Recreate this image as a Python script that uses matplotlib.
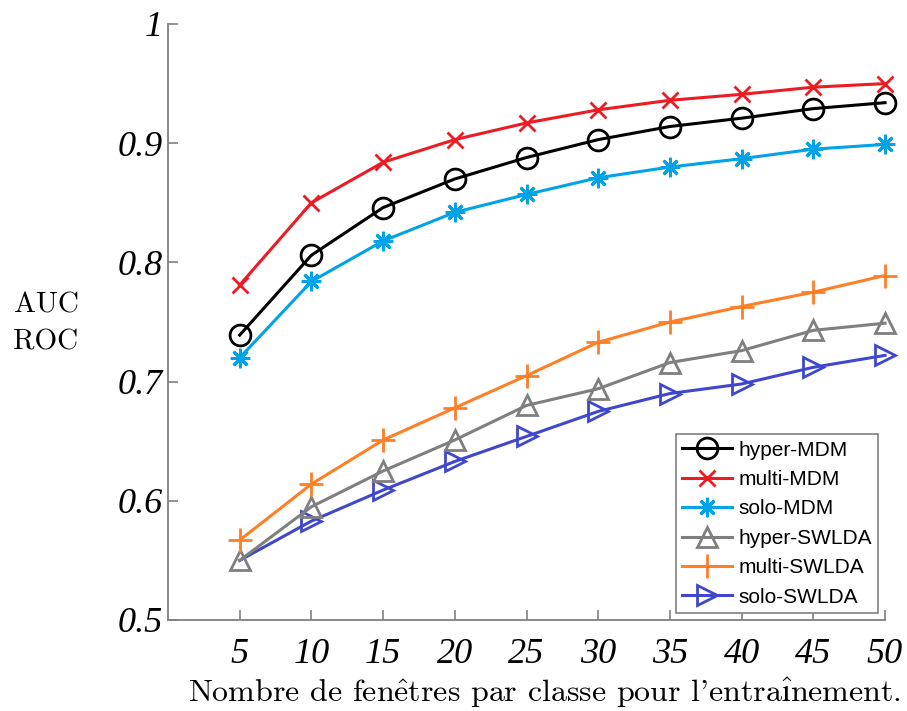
import matplotlib
matplotlib.use("Agg")
import matplotlib.pyplot as plt

plt.rcParams["mathtext.fontset"] = "cm"

x = [5, 10, 15, 20, 25, 30, 35, 40, 45, 50]

hyper_mdm = [0.739, 0.806, 0.846, 0.870, 0.888, 0.903, 0.914, 0.921, 0.929, 0.934]
multi_mdm = [0.781, 0.850, 0.884, 0.903, 0.917, 0.928, 0.936, 0.941, 0.947, 0.950]
solo_mdm = [0.720, 0.784, 0.818, 0.842, 0.857, 0.871, 0.880, 0.887, 0.895, 0.899]
hyper_swlda = [0.550, 0.595, 0.625, 0.651, 0.680, 0.694, 0.716, 0.726, 0.743, 0.749]
multi_swlda = [0.567, 0.614, 0.651, 0.678, 0.705, 0.733, 0.750, 0.763, 0.775, 0.789]
solo_swlda = [0.550, 0.583, 0.609, 0.633, 0.654, 0.675, 0.690, 0.698, 0.712, 0.722]

labels = ["hyper-MDM", "multi-MDM", "solo-MDM", "hyper-SWLDA", "multi-SWLDA", "solo-SWLDA"]
colors = ["#000000", "#ED1C24", "#00A2E8", "#7F7F7F", "#FF7F27", "#3F48CC"]
markers = ["o", "x", (8, 2, 0), "^", "+", ">"]
sizes = [15, 12, 14, 15, 17, 15]

fig = plt.figure(figsize=(9.07, 7.11), dpi=100)
ax = fig.add_axes([168 / 907, 1 - 620 / 711, (885 - 168) / 907, (620 - 24) / 711])

series = [hyper_mdm, multi_mdm, solo_mdm, hyper_swlda, multi_swlda, solo_swlda]
zorders = [3, 3, 3, 3, 3, 2]
for i, (y, lab, c, m, s, z) in enumerate(zip(series, labels, colors, markers, sizes, zorders)):
    # the first solo-SWLDA marker sits hidden under hyper-SWLDA in the original
    every = slice(1, None) if i == 5 else None
    ax.plot(x, y, color=c, marker=m, markersize=s, markerfacecolor="none",
            markeredgecolor=c, markeredgewidth=2, linewidth=2.2, label=lab,
            zorder=z, clip_on=False, markevery=every)

ax.set_xlim(0, 50)
ax.set_ylim(0.5, 1.0)
ax.set_xticks(x)
ax.set_yticks([0.5, 0.6, 0.7, 0.8, 0.9, 1.0])
ax.set_yticklabels(["0.5", "0.6", "0.7", "0.8", "0.9", "1"])

for side in ["top", "right"]:
    ax.spines[side].set_visible(False)
for side in ["left", "bottom"]:
    ax.spines[side].set_color("#808080")
    ax.spines[side].set_linewidth(1.3)

ax.tick_params(direction="in", length=7, width=1.2, color="#808080")
ax.tick_params(axis="x", pad=13)
ax.tick_params(axis="y", pad=4)
for t in ax.get_xticklabels() + ax.get_yticklabels():
    t.set_family("Liberation Serif")
    t.set_style("italic")
    t.set_fontsize(26)

leg = ax.legend(loc="lower right", bbox_to_anchor=((878 - 168) / 717, (620 - 613) / 596),
                prop={"family": "Liberation Sans", "size": 15}, frameon=True,
                fancybox=False, edgecolor="#808080", framealpha=1,
                handlelength=2.4, handletextpad=0.3, labelspacing=0.5,
                borderpad=0.3, borderaxespad=0)
leg.get_frame().set_linewidth(1.2)

xlabel = r"Nombre de fen$\hat{\mathrm{e}}$tres par classe pour l'entra$\hat{\mathrm{ı}}$nement."
fig.text(545 / 907, 1 - 693 / 711, xlabel,
         ha="center", va="center", fontsize=23, family=["cmr10", "DejaVu Serif"])
fig.text(46 / 907, 1 - 324 / 711, "AUC\nROC", ha="center", va="center",
         fontsize=21, family=["cmr10", "DejaVu Serif"], linespacing=1.5)

fig.savefig("out.png", dpi=100)
